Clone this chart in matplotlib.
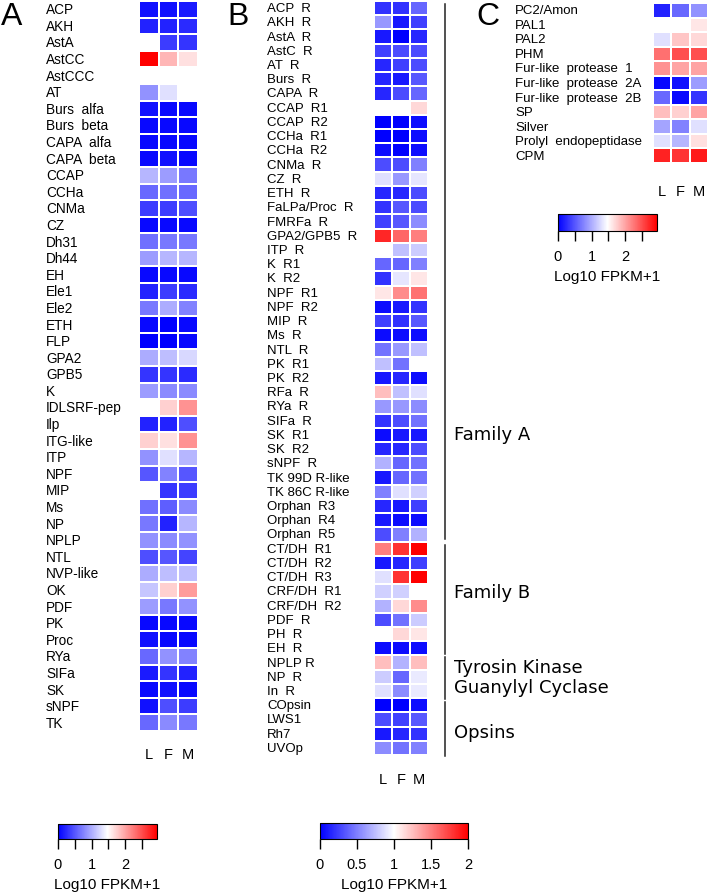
import numpy as np
import matplotlib.pyplot as plt
from matplotlib.colors import LinearSegmentedColormap, Normalize
from matplotlib.cm import ScalarMappable
from matplotlib.lines import Line2D

plt.rcParams['font.family'] = ['Liberation Sans', 'DejaVu Sans']

W, H = 709, 895
nan = np.nan
stages = ['L', 'F', 'M']

# panel A: neuropeptides
a_genes = ['ACP', 'AKH', 'AstA', 'AstCC', 'AstCCC', 'AT', 'Burs  alfa', 'Burs  beta',
           'CAPA  alfa', 'CAPA  beta', 'CCAP', 'CCHa', 'CNMa', 'CZ', 'Dh31', 'Dh44',
           'EH', 'Ele1', 'Ele2', 'ETH', 'FLP', 'GPA2', 'GPB5', 'K', 'IDLSRF-pep', 'Ilp',
           'ITG-like', 'ITP', 'NPF', 'MIP', 'Ms', 'NP', 'NPLP', 'NTL', 'NVP-like', 'OK',
           'PDF', 'PK', 'Proc', 'RYa', 'SIFa', 'SK', 'sNPF', 'TK']
a_vals = [
    [0.10, 0.10, 0.15], [0.20, 0.20, 0.25], [nan, 0.35, 0.30], [2.95, 1.90, 1.65],
    [nan, nan, nan], [0.85, 1.30, nan], [0.10, 0.05, 0.05], [0.05, 0.05, 0.05],
    [0.05, 0.05, 0.05], [0.05, 0.10, 0.05], [1.05, 0.90, 0.70], [0.60, 0.65, 0.60],
    [0.35, 0.35, 0.45], [0.05, 0.05, 0.05], [0.65, 0.70, 0.70], [0.90, 1.05, 1.05],
    [0.05, 0.05, 0.05], [0.20, 0.35, 0.25], [0.70, 1.00, 0.75], [0.05, 0.00, 0.05],
    [0.00, 0.00, 0.05], [1.00, 1.10, 1.25], [0.30, 0.30, 0.25], [0.90, 0.80, 0.80],
    [nan, 1.75, 2.10], [0.20, 0.20, 0.45], [1.75, 1.65, 2.10], [0.85, 1.30, 1.05],
    [0.50, 0.75, 0.50], [nan, 0.30, 0.35], [0.65, 0.55, 0.80], [0.70, 0.20, 1.05],
    [0.85, 0.80, 0.85], [0.45, 0.50, 0.40], [1.00, 1.10, 1.10], [1.15, 1.75, 2.05],
    [0.90, 0.70, 0.85], [0.05, 0.05, 0.05], [0.10, 0.05, 0.05], [0.60, 0.85, 0.75],
    [0.15, 0.30, 0.20], [0.05, 0.10, 0.05], [0.10, 0.45, 0.35], [0.60, 0.80, 0.70],
]

# panel B: receptors
b_genes = ['ACP  R', 'AKH  R', 'AstA  R', 'AstC  R', 'AT  R', 'Burs  R', 'CAPA  R',
           'CCAP  R1', 'CCAP  R2', 'CCHa  R1', 'CCHa  R2', 'CNMa  R', 'CZ  R', 'ETH  R',
           'FaLPa/Proc  R', 'FMRFa  R', 'GPA2/GPB5  R', 'ITP  R', 'K  R1', 'K  R2',
           'NPF  R1', 'NPF  R2', 'MIP  R', 'Ms  R', 'NTL  R', 'PK  R1', 'PK  R2', 'RFa  R',
           'RYa  R', 'SIFa  R', 'SK  R1', 'SK  R2', 'sNPF  R', 'TK 99D R-like',
           'TK 86C R-like', 'Orphan  R3', 'Orphan  R4', 'Orphan  R5', 'CT/DH  R1',
           'CT/DH  R2', 'CT/DH  R3', 'CRF/DH  R1', 'CRF/DH  R2', 'PDF  R', 'PH  R', 'EH  R',
           'NPLP R', 'NP  R', 'In  R', 'COpsin', 'LWS1', 'Rh7', 'UVOp']
b_vals = [
    [0.20, 0.20, 0.40], [0.60, 0.10, 0.25], [0.10, 0.00, 0.15], [0.25, 0.30, 0.30],
    [0.15, 0.25, 0.30], [0.15, 0.10, 0.35], [0.15, 0.30, 0.40], [nan, nan, 1.15],
    [0.00, 0.00, 0.05], [0.00, 0.00, 0.05], [0.05, 0.00, 0.05], [0.30, 0.30, 0.50],
    [0.88, 0.60, 0.90], [0.15, 0.15, 0.30], [0.20, 0.35, 0.30], [0.25, 0.35, 0.55],
    [1.85, 1.60, 1.50], [nan, 0.75, 0.80], [0.40, 0.40, 0.50], [0.20, 0.90, 1.10],
    [1.10, 1.45, 1.55], [0.05, 0.10, 0.20], [0.25, 0.20, 0.35], [0.05, 0.05, 0.05],
    [0.45, 0.60, 0.75], [0.75, 0.45, nan], [0.10, 0.15, 0.05], [1.25, 0.75, 0.88],
    [0.60, 0.60, 0.55], [0.20, 0.30, 0.45], [0.05, 0.10, 0.10], [0.15, 0.15, 0.30],
    [0.70, 0.40, 0.45], [0.10, 0.40, 0.45], [0.50, 0.88, 0.82], [0.15, 0.10, 0.25],
    [0.10, 0.05, 0.05], [0.30, 0.50, 0.70], [1.50, 1.80, 2.00], [0.10, 0.15, 0.25],
    [0.88, 1.80, 2.00], [0.82, 0.82, nan], [0.70, 1.15, 1.45], [0.30, 0.45, 0.80],
    [nan, 1.15, 1.10], [0.05, 0.05, 0.05], [1.25, 0.70, 1.25], [0.80, 0.40, 0.92],
    [0.88, 0.55, 0.92], [0.00, 0.00, 0.05], [0.30, 0.25, 0.35], [0.10, 0.15, 0.20],
    [0.55, 0.45, 0.50],
]

# panel C: processing enzymes
c_genes = ['PC2/Amon', 'PAL1', 'PAL2', 'PHM', 'Fur-like  protease  1',
           'Fur-like  protease  2A', 'Fur-like  protease  2B', 'SP', 'Silver',
           'Prolyl  endopeptidase', 'CPM']
c_vals = [
    [0.20, 0.60, 0.85], [nan, nan, 1.62], [1.30, 1.80, 1.70], [2.30, 2.50, 2.50],
    [2.10, 2.00, 2.00], [0.05, 0.10, 0.90], [0.60, 0.05, 0.30], [1.85, 1.75, 2.00],
    [0.95, 0.75, 1.30], [1.30, 1.05, 1.65], [2.75, 2.65, 2.80],
]

groups = ['Family A', 'Family B', 'Tyrosin Kinase\nGuanylyl Cyclase', 'Opsins']

cmap = LinearSegmentedColormap.from_list('bwr2', ['#0000ff', '#ffffff', '#ff0000'])

fig = plt.figure(figsize=(W / 100, H / 100), dpi=100)


def px_axes(x0, y0, x1, y1):
    return fig.add_axes([x0 / W, 1 - y1 / H, (x1 - x0) / W, (y1 - y0) / H])


def heatmap(box, genes, vals, vmax, label_px, fs, lab_gap):
    ax = px_axes(*box)
    data = np.ma.masked_invalid(np.array(vals, dtype=float))
    ax.pcolormesh(data, cmap=cmap, vmin=0, vmax=vmax, edgecolors='white', linewidth=1.3)
    ax.set_xlim(0, 3)
    ax.set_ylim(len(genes), 0)
    ax.axis('off')
    lx = (label_px - box[0]) / (box[2] - box[0])
    for i, g in enumerate(genes):
        ax.text(lx, i + 0.5, g, transform=ax.get_yaxis_transform(),
                ha='left', va='center', fontsize=fs)
    ly = -lab_gap / (box[3] - box[1])
    for j, s in enumerate(stages):
        ax.text(j + 0.5, ly, s, transform=ax.get_xaxis_transform(),
                ha='center', va='center', fontsize=10.5)
    return ax


def colorbar(box, vmax, ticks, labels):
    cax = px_axes(*box)
    cb = fig.colorbar(ScalarMappable(Normalize(0, vmax), cmap), cax=cax,
                      orientation='horizontal')
    cb.set_ticks(ticks, labels=labels)
    cax.tick_params(length=7, width=1, labelsize=10.5, pad=6)
    cb.outline.set_linewidth(0.8)
    cax.set_xlabel('Log10 FPKM+1', fontsize=11, labelpad=4)


heatmap((139, 2, 198, 732), a_genes, a_vals, 2.95, 46, 9.8, 23)
heatmap((374, 2, 428, 756), b_genes, b_vals, 2.0, 267, 9.5, 24)
heatmap((653, 4, 708, 164), c_genes, c_vals, 2.95, 515, 9.5, 28)

colorbar((58, 825, 157, 840), 2.95, np.arange(0, 3, 0.5), ['0', '', '1', '', '2', ''])
colorbar((320, 824, 468, 840), 2.0, [0, 0.5, 1, 1.5, 2], ['0', '0.5', '1', '1.5', '2'])
colorbar((558, 215, 657, 232), 2.95, np.arange(0, 3, 0.5), ['0', '', '1', '', '2', ''])

for letter, x in [('A', 1), ('B', 227), ('C', 476)]:
    fig.text(x / W, 1 - 17 / H, letter, fontsize=23, ha='left', va='center')

# group brackets beside panel B
for (y0, y1) in [(5, 540), (546, 655), (658, 700), (703, 757)]:
    fig.add_artist(Line2D([445 / W, 445 / W], [1 - y0 / H, 1 - y1 / H],
                          color='#222222', linewidth=1.1))
for name, y in zip(groups, [435, 593, 678, 733]):
    fig.text(454 / W, 1 - y / H, name, family='DejaVu Sans', fontsize=13,
             ha='left', va='center', linespacing=1.15)

fig.savefig('out.png', dpi=100)
